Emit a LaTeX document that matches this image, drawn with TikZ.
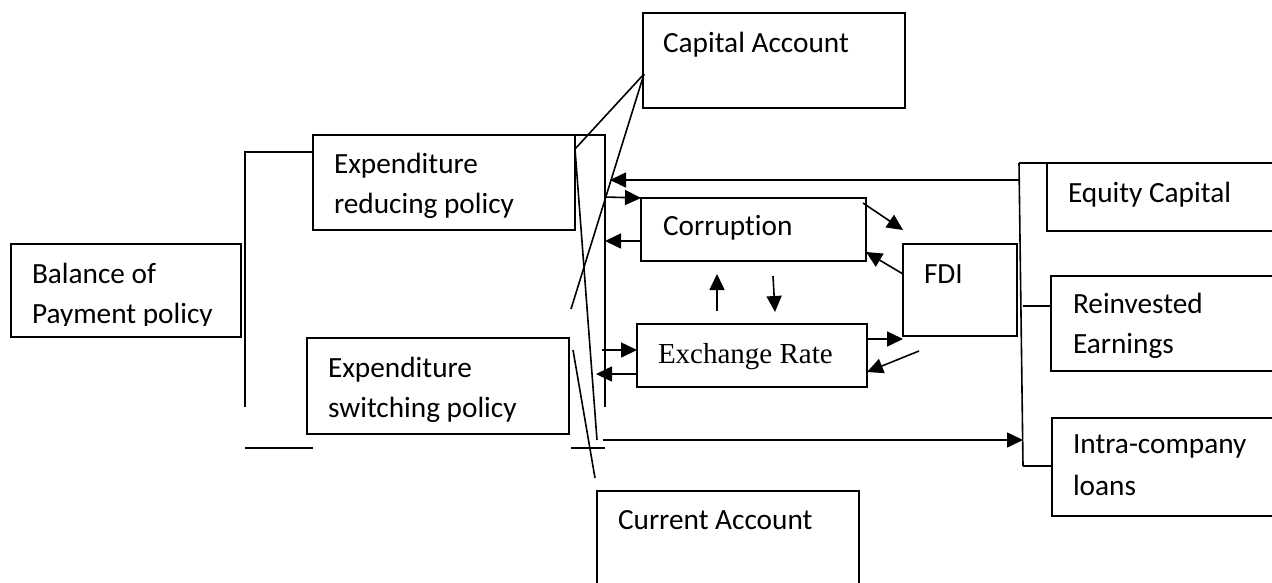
\documentclass[tikz,border=0pt]{standalone}
\usepackage{fontspec}
\setmainfont{Carlito}[Ligatures=NoCommon]
\newfontfamily\timesf{Liberation Serif}
\usetikzlibrary{arrows.meta}
\begin{document}
\begin{tikzpicture}[x=1pt,y=-1pt,
  line width=1.6pt,
  box/.style={draw,rectangle,inner sep=0pt,outer sep=0pt,anchor=north west},
  txt/.style={inner sep=0pt,outer sep=0pt,anchor=base west,font=\fontsize{29.3}{40}\selectfont},
  arr/.style={-{Triangle[length=16pt,width=15pt]}}]
\useasboundingbox (0,0) rectangle (1272,582);
\clip (0,0) rectangle (1272,582);
% boxes
\node[box,minimum width=262pt,minimum height=95pt] (cap) at (643,13) {};
\node[box,minimum width=230pt,minimum height=93pt] (bop) at (11,244) {};
\node[box,minimum width=262pt,minimum height=95pt] (err) at (313,135) {};
\node[box,minimum width=262pt,minimum height=96pt] (esw) at (307,338) {};
\node[box,minimum width=225pt,minimum height=63pt] (cor) at (641,198) {};
\node[box,minimum width=230pt,minimum height=63pt] (exr) at (637,324) {};
\node[box,minimum width=114pt,minimum height=92pt] (fdi) at (903,244) {};
\node[box,minimum width=260pt,minimum height=68pt] (eq) at (1047,163) {};
\node[box,minimum width=260pt,minimum height=95pt] (rei) at (1051,276) {};
\node[box,minimum width=260pt,minimum height=98pt] (icl) at (1052,418) {};
\node[box,minimum width=262pt,minimum height=110pt] (cur) at (597,491) {};
% texts
\node[txt] (tcap) at (663,52) {Capital Account};
\begin{scope}
\clip (11,244) rectangle (241,325);
\node[txt] (tbop1) at (32,283) {Balance of};
\node[txt] (tbop2) at (32,323) {Payment policy};
\end{scope}
\node[txt] (terr1) at (334,173) {Expenditure};
\node[txt] (terr2) at (334,213) {reducing policy};
\node[txt] (tesw1) at (328,377) {Expenditure};
\node[txt] (tesw2) at (328,417) {switching policy};
\node[txt] (tcor) at (663,235) {Corruption};
\node[txt,font=\fontsize{29}{40}\timesf] (texr) at (658,363) {Exchange Rate};
\node[txt] (tfdi) at (924,283) {FDI};
\node[txt] (teq) at (1068,202) {Equity Capital};
\node[txt] (trei1) at (1073,313) {Reinvested};
\node[txt] (trei2) at (1073,353) {Earnings};
\node[txt] (ticl1) at (1073,453) {Intra-company};
\node[txt] (ticl2) at (1073,495) {loans};
\node[txt] (tcur) at (618,529) {Current Account};
% named points
\coordinate (lb1) at (313,152);
\coordinate (lb2) at (245,152);
\coordinate (lb3) at (245,407);
\coordinate (lb4) at (245,448);
\coordinate (lb5) at (313,448);
\coordinate (v1) at (605,135);
\coordinate (v2) at (605,407);
\coordinate (ca) at (644,74);
\coordinate (ca1) at (575,149);
\coordinate (ca2) at (571,309);
\coordinate (la) at (597,440);
\coordinate (lbs) at (573,350);
\coordinate (lbe) at (595,478);
\coordinate (h1) at (571,448);
\coordinate (h2) at (605,448);
\coordinate (rb1) at (1019,163);
\coordinate (rb2) at (1023,466);
\coordinate (rbt) at (1280,163);
\coordinate (rm) at (1023,306);
\coordinate (ra) at (1019,180);
\coordinate (rl) at (1023,440);
% left bracket
\draw (lb1) -- (lb2) -- (lb3);
\draw (lb4) -- (lb5);
% reducing-policy bracket
\draw (err.north east) -- (v1) -- (v2);
% capital account lines
\draw (ca) -- (ca1);
\draw (ca) -- (ca2);
\draw (ca1) -- (la);
\draw (lbs) -- (lbe);
\draw (h1) -- (h2);
% right bracket
\draw (rb1) -- (rbt);
\draw (rb1) -- (rb2);
\draw (rm) -- (rei.west |- rm);
\draw (rb2) -- (icl.west |- rb2);
% arrows
\draw[arr] (ra) -- (610,180);
\draw[arr] (603,440) -- (rl);
\draw[arr] (605,197) -- (cor.north west);
\draw[arr] (cor.west |- 0,241) -- (605,241);
\draw[arr] (863,203) -- (903,230);
\draw[arr] (fdi.west |- 0,274) -- (866,252);
\draw[arr] (717,311) -- (717,274);
\draw[arr] (773,276) -- (775,312);
\draw[arr] (exr.east |- 0,339) -- (903,339);
\draw[arr] (919,351) -- (867,372);
\draw[arr] (602,350) -- (exr.west |- 0,350);
\draw[arr] (exr.west |- 0,374) -- (596,374);
\end{tikzpicture}
\end{document}
